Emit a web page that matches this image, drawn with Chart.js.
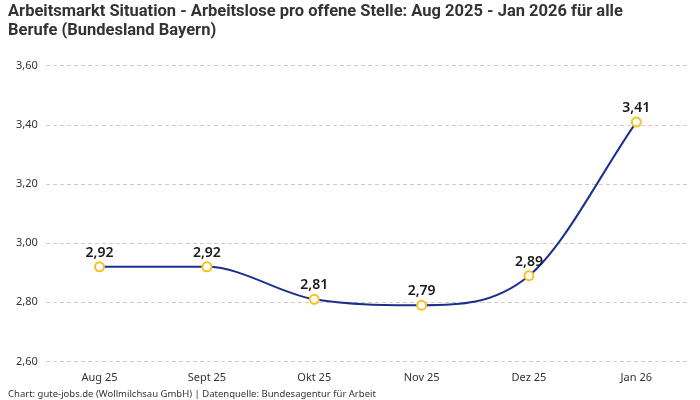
<!DOCTYPE html>
<html><head><meta charset="utf-8">
<script src="https://cdn.jsdelivr.net/npm/chart.js@4"></script>
<style>html,body{margin:0;padding:0;background:#fff}#w{width:700px;height:400px}</style>
</head><body><div id="w"><canvas id="c"></canvas></div>
<script>
const categories = ["Aug 25","Sept 25","Okt 25","Nov 25","Dez 25","Jan 26"];
const values = [2.92, 2.92, 2.81, 2.79, 2.89, 3.41];
const titleLines = ["Arbeitsmarkt Situation - Arbeitslose pro offene Stelle: Aug 2025 - Jan 2026 für alle","Berufe (Bundesland Bayern)"];
const footerText = "Chart: gute-jobs.de (Wollmilchsau GmbH) | Datenquelle: Bundesagentur für Arbeit";

const fmt = v => v.toFixed(2).replace('.', ',');

const labelPlugin = {
  id: 'valLabels',
  afterDatasetsDraw(chart) {
    const ctx = chart.ctx;
    const meta = chart.getDatasetMeta(0);
    ctx.save();
    ctx.font = '600 14px "Noto Sans", sans-serif';
    ctx.fillStyle = '#1a1a1a';
    ctx.textAlign = 'center';
    ctx.textBaseline = 'bottom';
    meta.data.forEach((pt, i) => {
      ctx.fillText(fmt(chart.data.datasets[0].data[i]), pt.x, pt.y - 7);
    });
    ctx.restore();
  }
};

new Chart(document.getElementById('c'), {
  type: 'line',
  data: {
    labels: categories,
    datasets: [{
      data: values,
      borderColor: '#1c2f8c',
      borderWidth: 2,
      cubicInterpolationMode: 'monotone',
      pointRadius: 4.5,
      pointBorderWidth: 2,
      pointBackgroundColor: '#ffffff',
      pointBorderColor: '#f8c11c',
      fill: false
    }]
  },
  options: {
    responsive: true,
    maintainAspectRatio: false,
    animation: false,
    layout: { padding: { left: 8, right: 10, top: 1, bottom: 0 } },
    plugins: {
      legend: { display: false },
      tooltip: { enabled: false },
      title: {
        display: true, text: titleLines, align: 'start',
        color: '#333333',
        font: { family: '"Roboto", sans-serif', size: 16.5, weight: 'bold', lineHeight: 1.15 },
        padding: { top: 1, bottom: 26 }
      },
      subtitle: {
        display: true, text: footerText, position: 'bottom', align: 'start',
        color: '#333333',
        font: { family: '"Noto Sans", sans-serif', size: 9.5 },
        padding: { top: 2, bottom: 0 }
      }
    },
    scales: {
      x: {
        offset: true,
        grid: { display: false },
        border: { display: false },
        ticks: { color: '#333333', font: { family: '"Noto Sans", sans-serif', size: 11 }, padding: 2 }
      },
      y: {
        min: 2.6, max: 3.6,
        ticks: { stepSize: 0.2, color: '#333333', padding: 8,
          font: { family: '"Noto Sans", sans-serif', size: 11 },
          callback: v => fmt(v) },
        grid: { color: '#cccccc', drawTicks: false },
        border: { display: false, dash: [4, 3] }
      }
    }
  },
  plugins: [labelPlugin]
});
</script></body></html>
